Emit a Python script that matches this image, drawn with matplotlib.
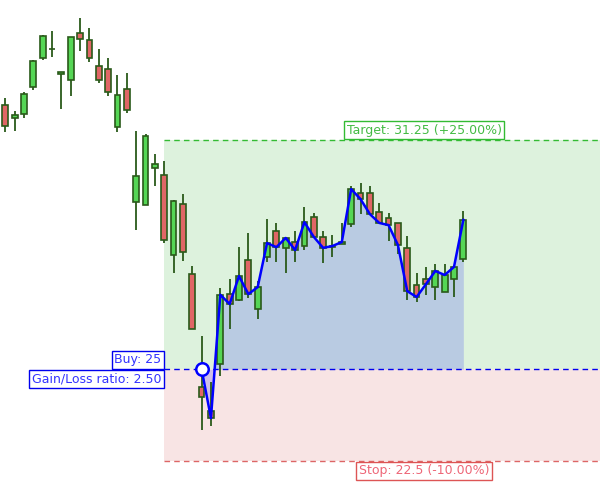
import matplotlib
matplotlib.use("Agg")
import matplotlib.pyplot as plt
import numpy as np

# OHLC data (index 0..49)
opens = [32.20, 31.85, 31.96, 32.70, 33.49, 33.73, 33.05, 32.89, 34.17, 33.98,
         33.27, 33.19, 31.60, 32.64, 29.56, 29.48, 30.49, 30.30, 28.12, 29.51,
         27.60, 24.52, 23.86, 25.14, 27.05, 26.89, 27.98, 26.64, 28.06, 28.77,
         28.31, 28.47, 28.36, 29.15, 28.61, 28.33, 28.42, 28.96, 29.81, 29.81,
         29.29, 29.12, 28.99, 28.31, 27.30, 27.46, 27.24, 27.11, 27.46, 28.01]
highs = [32.40, 32.04, 32.56, 33.43, 34.11, 34.22, 33.10, 34.06, 34.58, 34.30,
         33.73, 33.49, 33.02, 33.08, 31.50, 31.41, 30.87, 30.68, 29.61, 29.78,
         27.82, 25.91, 24.65, 27.22, 27.46, 28.33, 28.72, 27.41, 29.10, 28.99,
         28.58, 28.77, 29.42, 29.26, 28.77, 28.66, 28.99, 30.00, 30.08, 30.00,
         29.53, 29.26, 28.99, 28.63, 27.62, 27.79, 27.87, 27.87, 27.79, 29.31]
lows = [31.47, 31.50, 31.85, 32.61, 33.43, 33.51, 32.10, 32.45, 33.68, 33.38,
        32.80, 32.45, 31.47, 31.99, 28.80, 29.48, 30.00, 28.44, 27.62, 27.95,
        26.10, 23.35, 23.45, 24.82, 26.10, 26.86, 26.94, 26.37, 27.92, 27.92,
        27.62, 27.92, 28.25, 28.61, 27.90, 28.06, 28.42, 28.88, 29.23, 29.23,
        28.99, 28.50, 28.14, 26.89, 26.83, 27.03, 26.89, 27.11, 26.97, 27.92]
closes = [31.63, 31.93, 32.50, 33.40, 34.09, 33.73, 33.10, 34.06, 34.00, 33.49,
          32.89, 32.56, 32.48, 32.07, 30.27, 31.36, 30.60, 28.52, 29.59, 28.20,
          26.10, 24.24, 23.67, 27.03, 26.78, 27.54, 27.05, 27.24, 28.44, 28.33,
          28.58, 28.25, 29.01, 28.61, 28.31, 28.36, 28.47, 29.91, 29.64, 29.23,
          28.99, 28.93, 28.39, 27.13, 26.97, 27.32, 27.68, 27.57, 27.79, 29.07]

buy_index = 21
zone_start = 17
buy_price = 25.0
target_price = 31.25
stop_price = 22.5
ratio = 2.50

fig = plt.figure(figsize=(6, 5), dpi=100)
ax = fig.add_axes([0, 0, 1, 1])
ax.set_axis_off()
x0, x1 = -0.567, 63.62
ax.set_xlim(x0, x1)
ax.set_ylim(21.437, 35.066)

# zones
ax.fill_between([zone_start, x1], buy_price, target_price, color='#ddf2dd', zorder=0, linewidth=0)
ax.fill_between([zone_start, x1], stop_price, buy_price, color='#f8e4e4', zorder=0, linewidth=0)

# dashed level lines
ax.plot([zone_start, x1], [target_price]*2, color='#33bb33', lw=1, ls=(0, (4, 3)), zorder=2)
ax.plot([zone_start, x1], [stop_price]*2, color='#dd6666', lw=1, ls=(0, (4, 3)), zorder=2)
ax.plot([zone_start, x1], [buy_price]*2, color='#0000ee', lw=1, ls=(0, (4, 3)), zorder=2)

# fill area from buy to last
xs = np.arange(buy_index, len(closes))
ys = np.array([buy_price] + closes[buy_index + 1:])
ax.fill_between(xs, buy_price, ys, color='#0000ff', alpha=0.16, lw=0, zorder=1, interpolate=True)

# candles
idx = np.arange(len(opens))
o = np.array(opens); c = np.array(closes); h = np.array(highs); l = np.array(lows)
edge = '#2a5a1a'
ax.vlines(idx, l, h, color=edge, lw=1.3, zorder=3)
up = c >= o
cols = np.where(up, '#55d655', '#e06666')
ax.bar(idx, np.abs(c - o), bottom=np.minimum(o, c), width=0.62, color=cols,
       edgecolor=edge, linewidth=1.2, zorder=4)

# blue line
ax.plot(xs, ys, color='#0000ff', lw=1.8, zorder=5, solid_joinstyle='round')
ax.plot([buy_index], [buy_price], marker='o', ms=9, mfc='white', mec='#0000ff', mew=1.8, zorder=6)

fs = 9
ax.annotate(f'Buy: {buy_price:g}', xy=(zone_start, buy_price), xytext=(-2, 2.2), textcoords='offset points',
            ha='right', va='bottom', fontsize=fs, color='#3333ff', zorder=7,
            bbox=dict(boxstyle='square,pad=0.2', fc='white', ec='#0000ee', lw=1))
ax.annotate(f'Gain/Loss ratio: {ratio:.2f}', xy=(zone_start, buy_price), xytext=(-2, -2.2), textcoords='offset points',
            ha='right', va='top', fontsize=fs, color='#3333ff', zorder=7,
            bbox=dict(boxstyle='square,pad=0.2', fc='white', ec='#0000ee', lw=1))
lx = 44.8
pct_t = (target_price / buy_price - 1) * 100
pct_s = (stop_price / buy_price - 1) * 100
ax.annotate(f'Target: {target_price:g} (+{pct_t:.2f}%)', xy=(lx, target_price), xytext=(0, 2.2), textcoords='offset points',
            ha='center', va='bottom', fontsize=fs, color='#44bb44', zorder=7,
            bbox=dict(boxstyle='square,pad=0.2', fc='white', ec='#33bb33', lw=1))
ax.annotate(f'Stop: {stop_price:g} ({pct_s:.2f}%)', xy=(lx, stop_price), xytext=(0, -2.2), textcoords='offset points',
            ha='center', va='top', fontsize=fs, color='#ee6677', zorder=7,
            bbox=dict(boxstyle='square,pad=0.2', fc='white', ec='#dd5555', lw=1))

fig.savefig('out.png', dpi=100)
